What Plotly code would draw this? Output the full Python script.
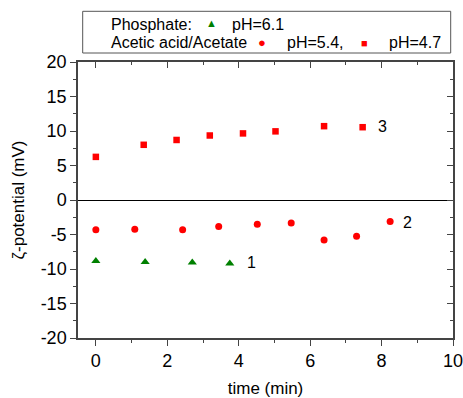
import plotly.graph_objects as go

# Data
t_phos = [0, 1.38, 2.70, 3.75]
z_phos = [-8.85, -9.0, -9.05, -9.2]

t_ac54 = [0, 1.09, 2.43, 3.44, 4.52, 5.47, 6.39, 7.30, 8.24]
z_ac54 = [-4.3, -4.25, -4.3, -3.85, -3.5, -3.35, -5.8, -5.25, -3.1]

t_ac47 = [0, 1.34, 2.26, 3.19, 4.12, 5.03, 6.39, 7.47]
z_ac47 = [6.25, 8.0, 8.7, 9.35, 9.65, 9.95, 10.7, 10.55]

curve_labels = ["1", "2", "3"]
label_x = [4.35, 8.72, 8.02]
label_y = [-9.0, -3.3, 10.6]

x_ticks = [0, 2, 4, 6, 8, 10]
x_ticktext = ["0", "2", "4", "6", "8", "10"]
y_ticks = [-20, -15, -10, -5, 0, 5, 10, 15, 20]
y_ticktext = ["-20", "-15", "-10", "-5", "0", "5", "10", "15", "20"]

FONT = "Liberation Sans, Arial, sans-serif"
RED = "#FF0000"
GREEN = "#008000"
AX = "#444444"

fig = go.Figure()
fig.add_trace(go.Scatter(x=t_phos, y=z_phos, mode="markers",
                         marker=dict(symbol="triangle-up", size=8, color=GREEN)))
fig.add_trace(go.Scatter(x=t_ac54, y=z_ac54, mode="markers",
                         marker=dict(symbol="circle", size=7, color=RED)))
fig.add_trace(go.Scatter(x=t_ac47, y=z_ac47, mode="markers",
                         marker=dict(symbol="square", size=6.5, color=RED)))
# invisible trace so mirrored (top/right) axes get drawn
fig.add_trace(go.Scatter(x=t_phos[:1], y=z_phos[:1], mode="markers", xaxis="x2", yaxis="y2",
                         marker=dict(opacity=0), hoverinfo="skip"))

for lab, lx, ly in zip(curve_labels, label_x, label_y):
    fig.add_annotation(x=lx, y=ly, text=lab, showarrow=False, xanchor="center",
                       font=dict(size=16, color="black", family=FONT))

L, R, T, B = 78, 10, 62, 60
W, H = 463, 398
pw = W - L - R
ph = H - T - B

def px(x):
    return (x - L) / pw

def py(y):
    return (H - B - y) / ph

# legend box
fig.add_shape(type="rect", xref="paper", yref="paper",
              x0=px(82.7), x1=px(450.7), y0=py(53), y1=py(11.3),
              line=dict(color="#555555", width=1), fillcolor="white")

legend_items = [
    ("Phosphate:", 109, 24, "black", 16),
    ("▲", 211.7, 23, GREEN, 11),
    ("pH=6.1", 230, 24, "black", 16),
    ("Acetic acid/Acetate", 109, 43, "black", 16),
    ("●", 262.3, 42.5, RED, 13),
    ("pH=5.4,", 285, 43, "black", 16),
    ("■", 364, 42.5, RED, 11),
    ("pH=4.7", 386.7, 43, "black", 16),
]
for txt, x, y, col, sz in legend_items:
    anchor = "center" if len(txt) == 1 else "left"
    fig.add_annotation(xref="paper", yref="paper", x=px(x), y=py(y), text=txt,
                       showarrow=False, xanchor=anchor, yanchor="middle",
                       font=dict(size=sz, color=col, family=FONT))

tickfont = dict(size=18, family=FONT, color="black")
titlefont = dict(size=17, family=FONT, color="black")
base = dict(showline=True, linecolor=AX, linewidth=1.5, showgrid=False, automargin=False,
            ticklen=6, tickwidth=1.3, tickcolor=AX, zeroline=False)

fig.update_layout(
    xaxis=dict(range=[-0.5, 10], tickmode="array", tickvals=x_ticks, ticktext=x_ticktext,
               ticks="outside", tickfont=tickfont, ticklabeloverflow="allow",
               minor=dict(ticks="outside", ticklen=3, tickwidth=1.3, tickcolor=AX, dtick=1, tick0=0),
               title=dict(text="time (min)", font=titlefont, standoff=14), **base),
    yaxis=dict(range=[-20, 20], tickmode="array", tickvals=y_ticks, ticktext=y_ticktext,
               ticks="outside", tickfont=tickfont, ticklabeloverflow="allow",
               minor=dict(ticks="outside", ticklen=3, tickwidth=1.3, tickcolor=AX, dtick=2.5, tick0=0),
               title=dict(text="ζ-potential (mV)", font=titlefont, standoff=12),
               **{k: v for k, v in base.items() if k != "zeroline"},
               zeroline=True, zerolinecolor="black", zerolinewidth=1.2),
    xaxis2=dict(range=[-0.5, 10], overlaying="x", side="top", tickmode="array",
                tickvals=x_ticks, ticks="inside", showticklabels=False,
                minor=dict(ticks="inside", ticklen=3, tickwidth=1.3, tickcolor=AX, dtick=1, tick0=0),
                **base),
    yaxis2=dict(range=[-20, 20], overlaying="y", side="right", tickmode="array",
                tickvals=y_ticks, ticks="inside", showticklabels=False,
                minor=dict(ticks="inside", ticklen=3, tickwidth=1.3, tickcolor=AX, dtick=2.5, tick0=0),
                **base),
)

fig.update_layout(width=W, height=H, margin=dict(l=L, r=R, t=T, b=B),
                  plot_bgcolor="white", paper_bgcolor="white", showlegend=False,
                  font=dict(family=FONT, color="black"))

fig.write_html("out.html", config={"displayModeBar": False},
               post_script="document.body.style.margin='0';document.body.style.overflow='hidden';")
